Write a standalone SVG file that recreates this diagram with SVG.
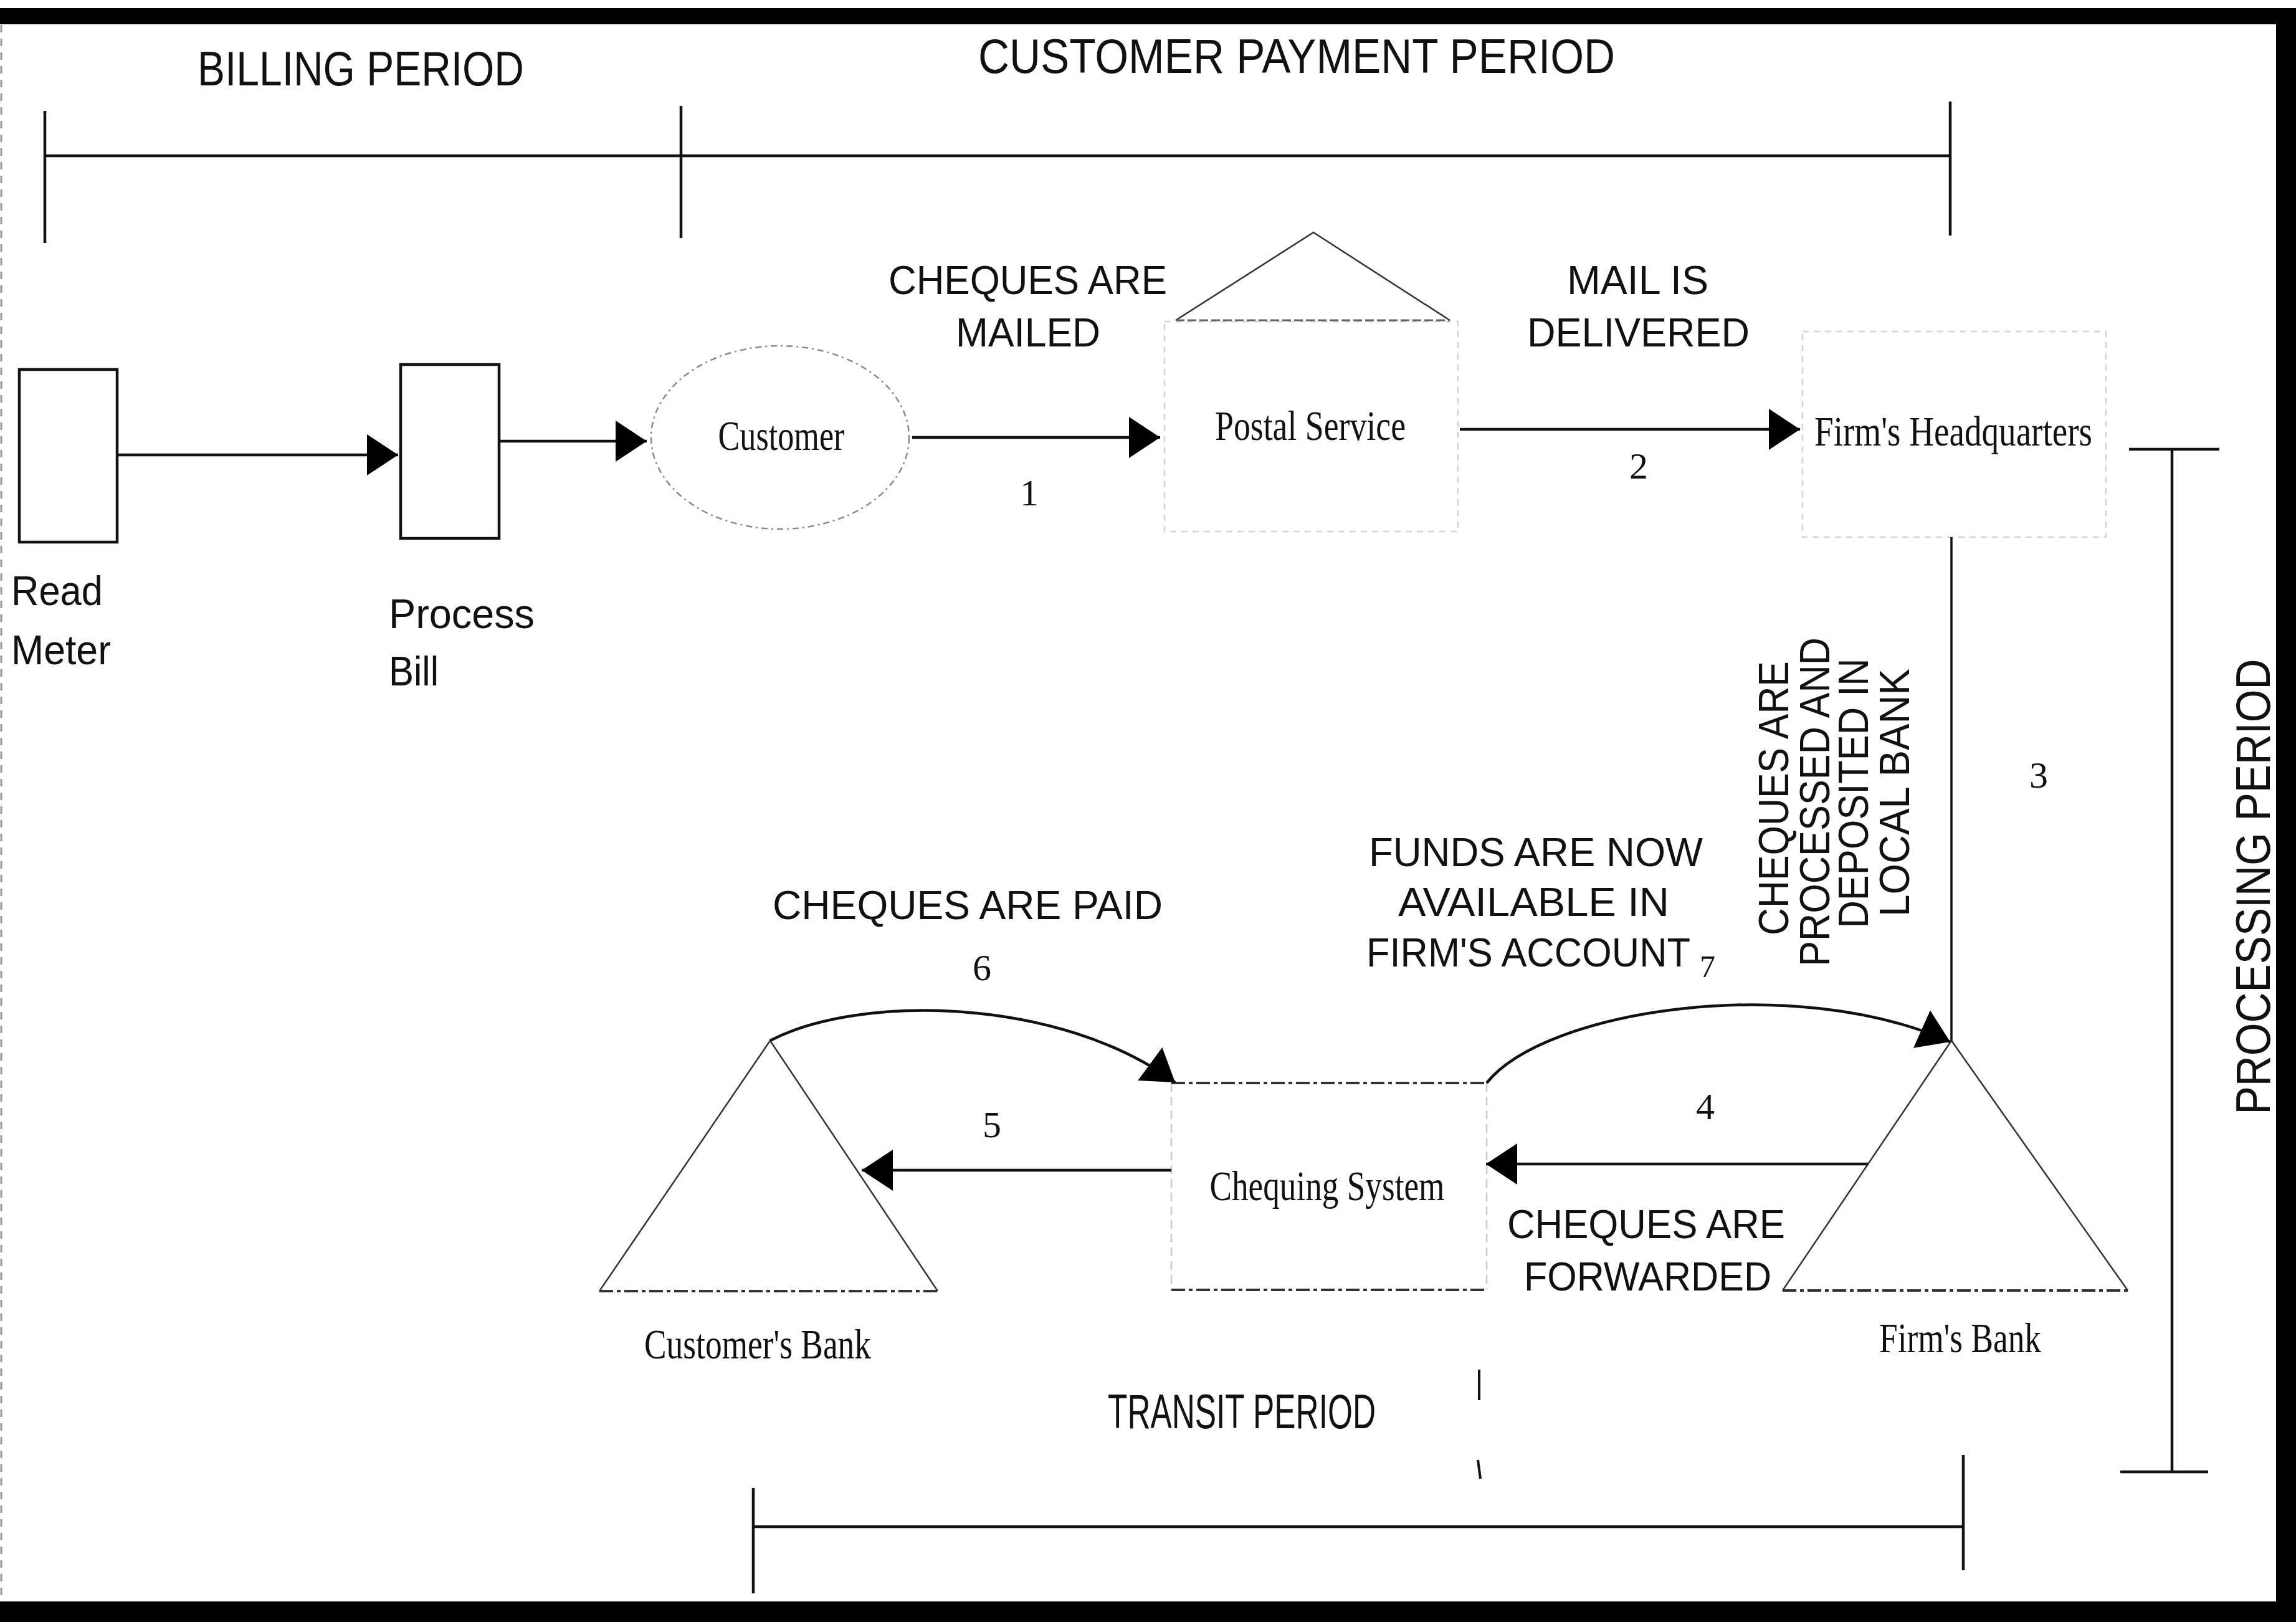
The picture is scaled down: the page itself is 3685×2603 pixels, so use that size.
<svg xmlns="http://www.w3.org/2000/svg" width="3685" height="2603" viewBox="0 0 3685 2603">
<defs>
<style>
.lbl{font-family:"Liberation Sans",Arial,sans-serif;fill:#111;}
.cap{font-size:64px;}
.per{font-size:78px;}
.node{font-family:"Liberation Serif","Times New Roman",serif;fill:#111;font-size:68px;}
.num{font-family:"Liberation Serif","Times New Roman",serif;fill:#111;font-size:60px;}
.box{fill:none;stroke:#111;stroke-width:4.5;}
.faint{fill:none;stroke:#d4d4d4;stroke-width:2.5;stroke-dasharray:10 8;}
.dash{fill:none;stroke:#333;stroke-width:4;stroke-dasharray:22 6 6 6;}
.tri{fill:none;stroke:#333;stroke-width:2.5;}
.conn{fill:none;stroke:#111;stroke-width:4.5;}
.tl{fill:none;stroke:#111;stroke-width:4.5;}
</style>
<marker id="ah" viewBox="0 0 50 66" refX="50" refY="33" markerWidth="50" markerHeight="66" markerUnits="userSpaceOnUse" orient="auto">
<path d="M0,0 L50,33 L0,66 Z" fill="#000"/>
</marker>
</defs>
<rect x="0" y="0" width="3685" height="2603" fill="#fff"/>
<g id="frame">
<rect x="0" y="13" width="3675" height="26" fill="#000"/>
<rect x="3653" y="13" width="32" height="2590" fill="#000"/>
<rect x="0" y="2570" width="3685" height="33" fill="#000"/>
<line x1="2" y1="40" x2="2" y2="2570" stroke="#999" stroke-width="3" stroke-dasharray="12 10"/>
</g>
<g id="billing-timeline">
<line class="tl" x1="72" y1="250" x2="3130" y2="250"/>
<line class="tl" x1="72" y1="178" x2="72" y2="390"/>
<line class="tl" x1="1093" y1="170" x2="1093" y2="382"/>
<line class="tl" x1="3130" y1="163" x2="3130" y2="378"/>
<text class="lbl per" x="317" y="137" textLength="524" lengthAdjust="spacingAndGlyphs">BILLING PERIOD</text>
<text class="lbl per" x="1570" y="117" textLength="1022" lengthAdjust="spacingAndGlyphs">CUSTOMER PAYMENT PERIOD</text>
</g>
<g id="processing-timeline">
<line class="tl" x1="3417" y1="721" x2="3562" y2="721"/>
<line class="tl" x1="3486" y1="721" x2="3486" y2="2362"/>
<line class="tl" x1="3403" y1="2362" x2="3544" y2="2362"/>
<text class="lbl per" transform="translate(3643,1423) rotate(-90)" x="0" y="0" text-anchor="middle" textLength="731" lengthAdjust="spacingAndGlyphs">PROCESSING PERIOD</text>
</g>
<g id="transit-timeline">
<line class="tl" x1="1209" y1="2450" x2="3151" y2="2450"/>
<line class="tl" x1="1209" y1="2388" x2="1209" y2="2557"/>
<line class="tl" x1="3151" y1="2335" x2="3151" y2="2520"/>
<text class="lbl" style="font-size:78px" x="1778" y="2292" textLength="430" lengthAdjust="spacingAndGlyphs">TRANSIT PERIOD</text>
<line x1="2374" y1="2198" x2="2374" y2="2247" stroke="#111" stroke-width="4"/>
<line x1="2372" y1="2343" x2="2376" y2="2373" stroke="#111" stroke-width="4"/>
</g>
<g id="read-meter">
<rect class="box" x="31" y="593" width="157" height="277"/>
<text class="lbl" style="font-size:66px" x="18" y="971" textLength="147" lengthAdjust="spacingAndGlyphs">Read</text>
<text class="lbl" style="font-size:66px" x="18" y="1066" textLength="160" lengthAdjust="spacingAndGlyphs">Meter</text>
</g>
<g id="process-bill">
<rect class="box" x="643" y="585" width="158" height="279"/>
<text class="lbl" style="font-size:66px" x="624" y="1008" textLength="234" lengthAdjust="spacingAndGlyphs">Process</text>
<text class="lbl" style="font-size:66px" x="624" y="1100" textLength="80" lengthAdjust="spacingAndGlyphs">Bill</text>
</g>
<g id="customer">
<ellipse cx="1252" cy="702" rx="207" ry="147" fill="none" stroke="#888" stroke-width="2.5" stroke-dasharray="10 6 3 6"/>
<text class="node" x="1254" y="722" text-anchor="middle" textLength="203" lengthAdjust="spacingAndGlyphs">Customer</text>
</g>
<g id="postal-service">
<rect class="faint" x="1869" y="516" width="471" height="337"/>
<path d="M1887,514 L2108,373 L2327,514" class="tri" stroke="#555"/>
<line x1="1887" y1="514" x2="2327" y2="514" stroke="#666" stroke-width="3" stroke-dasharray="14 5"/>
<text class="node" x="2103" y="706" text-anchor="middle" textLength="306" lengthAdjust="spacingAndGlyphs">Postal Service</text>
</g>
<g id="firms-headquarters">
<rect class="faint" x="2893" y="532" width="487" height="330"/>
<text class="node" x="3135" y="715" text-anchor="middle" textLength="446" lengthAdjust="spacingAndGlyphs">Firm's Headquarters</text>
</g>
<g id="customers-bank">
<path d="M962,2072 L1236,1670 L1505,2072" class="tri"/>
<line class="dash" x1="962" y1="2072" x2="1505" y2="2072"/>
<text class="node" x="1216" y="2180" text-anchor="middle" textLength="364" lengthAdjust="spacingAndGlyphs">Customer's Bank</text>
</g>
<g id="chequing-system">
<line x1="1880" y1="1738" x2="1880" y2="2070" stroke="#ccc" stroke-width="2.5" stroke-dasharray="14 8"/>
<line x1="2386" y1="1738" x2="2386" y2="2070" stroke="#ccc" stroke-width="2.5" stroke-dasharray="14 8"/>
<line class="dash" x1="1880" y1="1738" x2="2386" y2="1738"/>
<line class="dash" x1="1880" y1="2070" x2="2386" y2="2070"/>
<text class="node" x="2130" y="1926" text-anchor="middle" textLength="377" lengthAdjust="spacingAndGlyphs">Chequing System</text>
</g>
<g id="firms-bank">
<path d="M2861,2071 L3132,1670 L3415,2071" class="tri"/>
<line class="dash" x1="2861" y1="2071" x2="3415" y2="2071" stroke="#555"/>
<text class="node" x="3146" y="2170" text-anchor="middle" textLength="260" lengthAdjust="spacingAndGlyphs">Firm's Bank</text>
</g>
<g id="connectors">
<line class="conn" x1="188" y1="730" x2="639" y2="730" marker-end="url(#ah)"/>
<line class="conn" x1="801" y1="708" x2="1038" y2="708" marker-end="url(#ah)"/>
<line class="conn" x1="1464" y1="702" x2="1862" y2="702" marker-end="url(#ah)"/>
<line class="conn" x1="2343" y1="689" x2="2889" y2="689" marker-end="url(#ah)"/>
<line class="conn" style="stroke-width:3.5" x1="3132" y1="862" x2="3132" y2="1670"/>
<line class="conn" x1="2998" y1="1868" x2="2385" y2="1868" marker-end="url(#ah)"/>
<line class="conn" x1="1880" y1="1878" x2="1383" y2="1878" marker-end="url(#ah)"/>
<path class="conn" d="M1236,1670 C1380,1595 1700,1600 1886,1737" marker-end="url(#ah)"/>
<path class="conn" d="M2386,1738 C2480,1620 2880,1560 3130,1672" marker-end="url(#ah)"/>
</g>
<g id="connector-labels">
<text class="lbl cap" x="1426" y="472" textLength="447" lengthAdjust="spacingAndGlyphs">CHEQUES ARE</text>
<text class="lbl cap" x="1534" y="556" textLength="232" lengthAdjust="spacingAndGlyphs">MAILED</text>
<text class="num" x="1652" y="811" text-anchor="middle">1</text>
<text class="lbl cap" x="2515" y="472" textLength="227" lengthAdjust="spacingAndGlyphs">MAIL IS</text>
<text class="lbl cap" x="2451" y="556" textLength="357" lengthAdjust="spacingAndGlyphs">DELIVERED</text>
<text class="num" x="2630" y="768" text-anchor="middle">2</text>
<text class="num" x="3272" y="1264" text-anchor="middle">3</text>
<g class="lbl" style="font-size:68px" text-anchor="middle">
<text transform="translate(2870,1281) rotate(-90)" textLength="440" lengthAdjust="spacingAndGlyphs">CHEQUES ARE</text>
<text transform="translate(2936,1287) rotate(-90)" textLength="528" lengthAdjust="spacingAndGlyphs">PROCESSED AND</text>
<text transform="translate(2998,1273) rotate(-90)" textLength="433" lengthAdjust="spacingAndGlyphs">DEPOSITED IN</text>
<text transform="translate(3064,1272) rotate(-90)" textLength="398" lengthAdjust="spacingAndGlyphs">LOCAL BANK</text>
</g>
<text class="lbl cap" x="2197" y="1390" textLength="536" lengthAdjust="spacingAndGlyphs">FUNDS ARE NOW</text>
<text class="lbl cap" x="2244" y="1470" textLength="435" lengthAdjust="spacingAndGlyphs">AVAILABLE IN</text>
<text class="lbl cap" x="2193" y="1551" textLength="520" lengthAdjust="spacingAndGlyphs">FIRM'S ACCOUNT</text>
<text class="num" style="font-size:50px" x="2728" y="1568">7</text>
<text class="lbl cap" x="1240" y="1475" textLength="626" lengthAdjust="spacingAndGlyphs">CHEQUES ARE PAID</text>
<text class="num" x="1576" y="1573" text-anchor="middle">6</text>
<text class="num" x="1592" y="1825" text-anchor="middle">5</text>
<text class="num" x="2737" y="1796" text-anchor="middle">4</text>
<text class="lbl cap" x="2419" y="1987" textLength="446" lengthAdjust="spacingAndGlyphs">CHEQUES ARE</text>
<text class="lbl cap" x="2446" y="2071" textLength="397" lengthAdjust="spacingAndGlyphs">FORWARDED</text>
</g>
</svg>
